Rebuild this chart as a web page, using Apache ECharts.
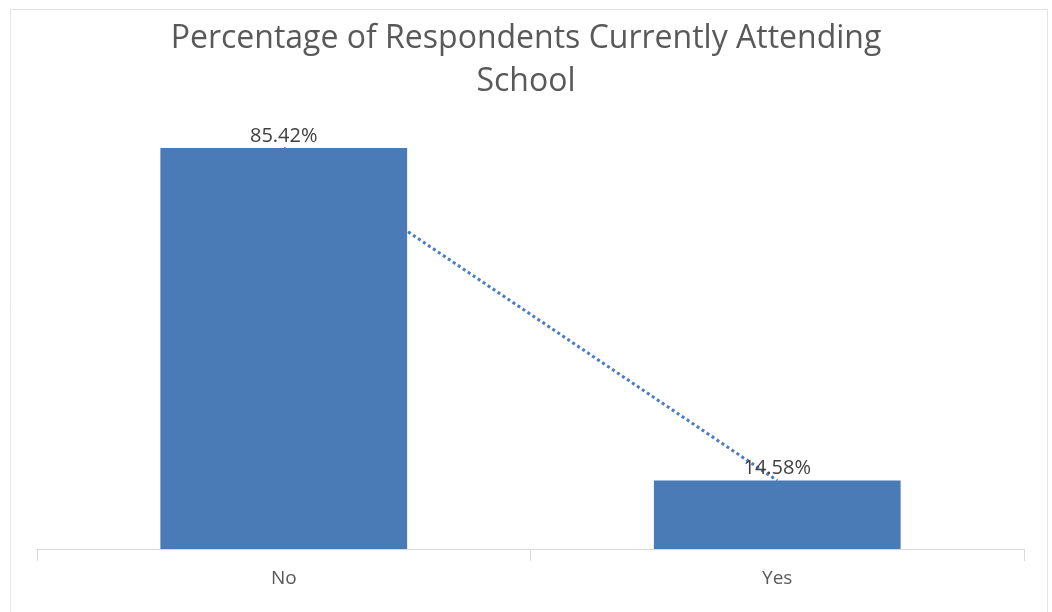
<!DOCTYPE html>
<html><head><meta charset="utf-8">
<script src="https://cdn.jsdelivr.net/npm/echarts@6/dist/echarts.min.js"></script>
<style>html,body{margin:0;padding:0;background:#fff}#c{width:1052px;height:612px}</style>
</head><body><div id="c"></div>
<script>
const categories = ["No", "Yes"];
const values = [85.42, 14.58];
const titleText = "Percentage of Respondents Currently Attending\nSchool";

const chart = echarts.init(document.getElementById('c'), null, {renderer: 'canvas'});
chart.setOption({
  animation: false,
  backgroundColor: '#ffffff',
  graphic: [{
    type: 'rect', shape: {x: 10.5, y: 9.5, width: 1037, height: 620},
    style: {fill: 'none', stroke: '#e3e3e3', lineWidth: 1}, silent: true, z: -1
  }],
  title: {
    text: titleText, left: 'center', top: 12,
    textStyle: {fontFamily: 'Open Sans', fontWeight: 'normal', fontSize: 32, color: '#595959', lineHeight: 43}
  },
  grid: {left: 37, right: 28, top: 126.5, bottom: 63, containLabel: false},
  xAxis: {
    type: 'category', data: categories, boundaryGap: true,
    axisLine: {lineStyle: {color: '#d9d9d9', width: 1}},
    axisTick: {show: true, length: 12, lineStyle: {color: '#d9d9d9'}},
    axisLabel: {fontFamily: 'Open Sans', fontSize: 19, color: '#595959', margin: 20}
  },
  yAxis: {type: 'value', min: 0, max: 90, show: false, splitLine: {show: false}},
  series: [
    {
      type: 'bar', data: values, barWidth: '50%', z: 3,
      itemStyle: {color: '#4a7bb7'},
      label: {show: true, position: 'top', distance: 2, formatter: p => p.value.toFixed(2) + '%',
        fontFamily: 'Open Sans', fontSize: 20, color: '#404040'}
    },
    {
      type: 'line', data: values, z: 2, symbol: 'none', silent: true,
      lineStyle: {color: '#4a7bc4', width: 3, type: [3, 3]}
    }
  ]
});
</script></body></html>
